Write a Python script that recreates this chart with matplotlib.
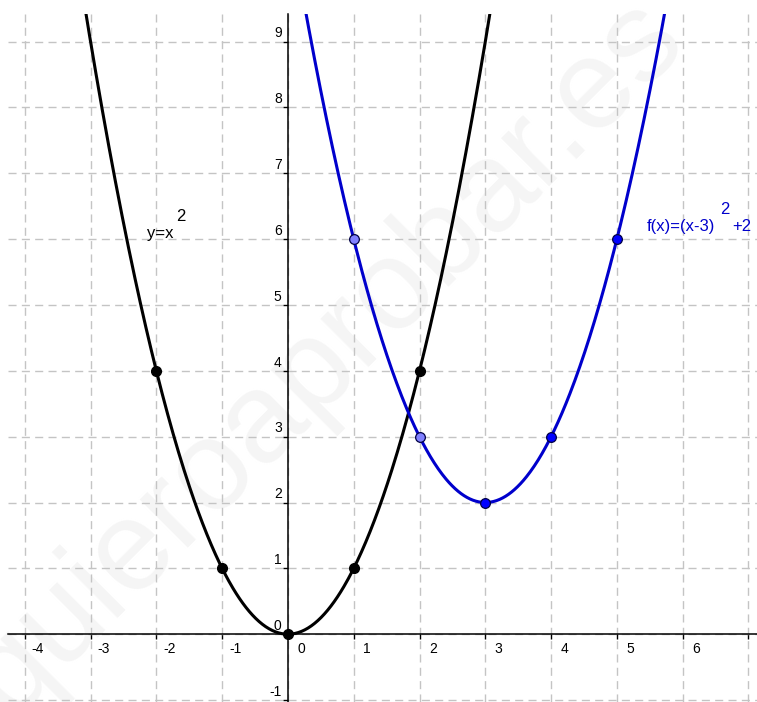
import matplotlib
matplotlib.use("Agg")
import matplotlib.pyplot as plt
import numpy as np

plt.rcParams['font.family'] = ['Liberation Sans', 'DejaVu Sans']
plt.rcParams['lines.scale_dashes'] = False

# y = x^2  and  f(x) = (x-3)^2 + 2
black_px = [-2, -1, 0, 1, 2]
black_py = [4, 1, 0, 1, 4]
blue_light_px = [1, 2]
blue_light_py = [6, 3]
blue_px = [3, 4, 5]
blue_py = [2, 3, 6]
f_shift_x = 3
f_shift_y = 2

x_ticks = [-4, -3, -2, -1, 0, 1, 2, 3, 4, 5, 6]
y_ticks = [-1, 0, 1, 2, 3, 4, 5, 6, 7, 8, 9]

fig = plt.figure(figsize=(7.57, 7.02), dpi=100)
ax = fig.add_axes([8/757, 0, 749/757, 688/702])
ax.set_xlim(-4.255, 7.13)
ax.set_ylim(-1.03, 9.42)

# watermark, behind everything
fig.text(0.43, 0.49, "quieroaprobar.es", rotation=45, fontsize=92,
         color='#f5f5f5', ha='center', va='center', zorder=-5)
ax.patch.set_alpha(0)

ax.set_xticks(np.arange(-4, 8))
ax.set_yticks(np.arange(-1, 10))
ax.grid(True, color='#c4c4c4', lw=1.0, ls=(0, (5.8, 3.8)), zorder=1)

for s in ['top', 'right']:
    ax.spines[s].set_visible(False)
ax.spines['left'].set_position(('data', 0))
ax.spines['bottom'].set_position(('data', 0))
ax.spines['left'].set_linewidth(1.1)
ax.spines['bottom'].set_linewidth(1.1)
ax.tick_params(direction='out', length=3.5, width=1.0, labelleft=False, labelbottom=False)

for v in x_ticks:
    ax.annotate(str(v), (v, 0), xytext=(9.5, -10.5), textcoords='offset points',
                ha='center', va='center', fontsize=10)
for v in y_ticks:
    ax.annotate(str(v), (0, v), xytext=(-4.5, 6), textcoords='offset points',
                ha='right', va='center', fontsize=10)

xs = np.linspace(-3.3, 3.3, 400)
ax.plot(xs, xs**2, color='black', lw=2.2, zorder=3)
xs2 = np.linspace(0.0, 6.0, 400)
ax.plot(xs2, (xs2 - f_shift_x)**2 + f_shift_y, color='#0000cc', lw=2.2, zorder=3)

ax.plot(black_px, black_py, 'o', ms=7, color='black', mec='black', zorder=4)
ax.plot(blue_light_px, blue_light_py, 'o', ms=7, color='#8080ff', mec='#000044', mew=0.9, zorder=4)
ax.plot(blue_px, blue_py, 'o', ms=7, color='#0000ff', mec='#000044', mew=0.9, zorder=4)

ax.text(-2.14, 6.02, "y=x", fontsize=12, color='black', va='baseline')
ax.text(-1.70, 6.27, "2", fontsize=12, color='black', va='baseline')
ax.text(5.45, 6.12, "f(x)=(x-3)", fontsize=12, color='#0000cc', va='baseline')
ax.text(6.575, 6.38, "2", fontsize=12, color='#0000cc', va='baseline')
ax.text(6.75, 6.12, "+2", fontsize=12, color='#0000cc', va='baseline')

fig.savefig("out.png", dpi=100)
